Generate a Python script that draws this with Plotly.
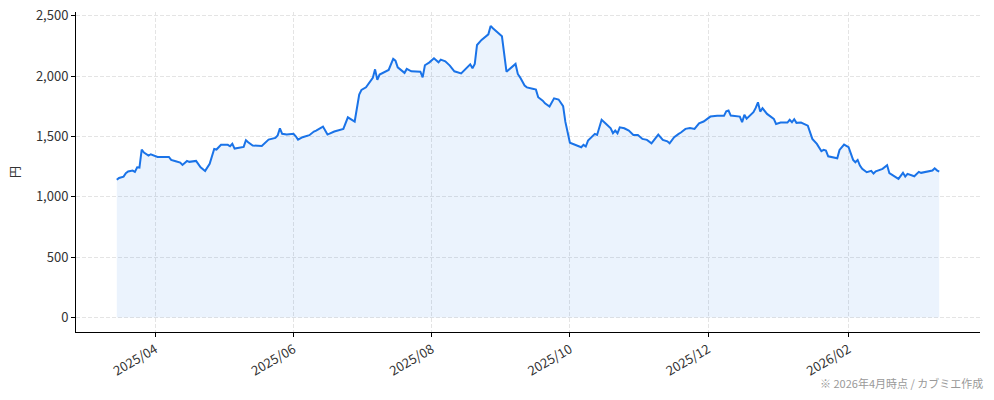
import plotly.graph_objects as go

# 株価推移 (日付, 終値: 円)
dates = [
    "2025-03-15", "2025-03-16", "2025-03-18", "2025-03-19", "2025-03-20", "2025-03-22",
    "2025-03-23", "2025-03-24", "2025-03-25", "2025-03-26", "2025-03-27", "2025-03-29",
    "2025-03-30", "2025-04-01", "2025-04-02", "2025-04-07", "2025-04-08", "2025-04-10",
    "2025-04-12", "2025-04-13", "2025-04-15", "2025-04-16", "2025-04-19", "2025-04-21",
    "2025-04-23", "2025-04-25", "2025-04-27", "2025-04-28", "2025-04-30", "2025-05-03",
    "2025-05-04", "2025-05-05", "2025-05-06", "2025-05-10", "2025-05-11", "2025-05-12",
    "2025-05-14", "2025-05-18", "2025-05-21", "2025-05-24", "2025-05-25", "2025-05-26",
    "2025-05-27", "2025-05-29", "2025-06-01", "2025-06-02", "2025-06-03", "2025-06-05",
    "2025-06-08", "2025-06-10", "2025-06-11", "2025-06-14", "2025-06-16", "2025-06-19",
    "2025-06-23", "2025-06-25", "2025-06-28", "2025-06-30", "2025-07-01", "2025-07-03",
    "2025-07-05", "2025-07-06", "2025-07-07", "2025-07-08", "2025-07-09", "2025-07-11",
    "2025-07-13", "2025-07-15", "2025-07-16", "2025-07-17", "2025-07-20", "2025-07-21",
    "2025-07-23", "2025-07-27", "2025-07-28", "2025-07-29", "2025-07-31", "2025-08-02",
    "2025-08-04", "2025-08-05", "2025-08-07", "2025-08-09", "2025-08-11", "2025-08-14",
    "2025-08-16", "2025-08-18", "2025-08-19", "2025-08-20", "2025-08-21", "2025-08-23",
    "2025-08-26", "2025-08-27", "2025-08-28", "2025-09-01", "2025-09-03", "2025-09-05",
    "2025-09-07", "2025-09-08", "2025-09-09", "2025-09-11", "2025-09-12", "2025-09-15",
    "2025-09-16", "2025-09-17", "2025-09-19", "2025-09-20", "2025-09-22", "2025-09-24",
    "2025-09-26", "2025-09-28", "2025-09-29", "2025-10-01", "2025-10-03", "2025-10-06",
    "2025-10-07", "2025-10-08", "2025-10-09", "2025-10-11", "2025-10-12", "2025-10-13",
    "2025-10-15", "2025-10-17", "2025-10-19", "2025-10-20", "2025-10-21", "2025-10-22",
    "2025-10-23", "2025-10-25", "2025-10-27", "2025-10-29", "2025-10-31", "2025-11-02",
    "2025-11-04", "2025-11-06", "2025-11-09", "2025-11-11", "2025-11-13", "2025-11-14",
    "2025-11-16", "2025-11-18", "2025-11-19", "2025-11-21", "2025-11-23", "2025-11-25",
    "2025-11-27", "2025-11-29", "2025-11-30", "2025-12-02", "2025-12-05", "2025-12-08",
    "2025-12-09", "2025-12-10", "2025-12-11", "2025-12-13", "2025-12-15", "2025-12-16",
    "2025-12-17", "2025-12-18", "2025-12-21", "2025-12-22", "2025-12-23", "2025-12-24",
    "2025-12-25", "2025-12-27", "2025-12-30", "2025-12-31", "2026-01-02", "2026-01-05",
    "2026-01-06", "2026-01-07", "2026-01-08", "2026-01-09", "2026-01-11", "2026-01-14",
    "2026-01-16", "2026-01-18", "2026-01-20", "2026-01-21", "2026-01-22", "2026-01-23",
    "2026-01-27", "2026-01-28", "2026-01-30", "2026-02-01", "2026-02-03", "2026-02-04",
    "2026-02-05", "2026-02-06", "2026-02-07", "2026-02-09", "2026-02-11", "2026-02-12",
    "2026-02-13", "2026-02-16", "2026-02-18", "2026-02-19", "2026-02-21", "2026-02-23",
    "2026-02-25", "2026-02-26", "2026-02-27", "2026-03-01", "2026-03-02", "2026-03-04",
    "2026-03-05", "2026-03-10", "2026-03-11", "2026-03-12", "2026-03-13",
]
prices = [
    1140, 1156, 1167, 1195, 1209, 1217,
    1206, 1244, 1242, 1391, 1366, 1341,
    1352, 1341, 1330, 1330, 1305, 1294,
    1283, 1264, 1297, 1289, 1297, 1244,
    1214, 1272, 1396, 1391, 1430, 1430,
    1418, 1438, 1399, 1413, 1468, 1451,
    1424, 1421, 1473, 1487, 1507, 1567,
    1521, 1515, 1521, 1501, 1473, 1493,
    1510, 1540, 1548, 1581, 1515, 1540,
    1562, 1658, 1623, 1846, 1885, 1906,
    1954, 1984, 2055, 1968, 2012, 2031,
    2050, 2142, 2127, 2072, 2026, 2059,
    2039, 2036, 1989, 2089, 2113, 2147,
    2113, 2136, 2122, 2086, 2039, 2022,
    2064, 2097, 2064, 2100, 2257, 2299,
    2345, 2415, 2395, 2329, 2036, 2070,
    2100, 2017, 1989, 1921, 1906, 1893,
    1887, 1824, 1796, 1774, 1747, 1815,
    1805, 1750, 1620, 1448, 1432, 1410,
    1430, 1416, 1465, 1501, 1521, 1512,
    1637, 1603, 1567, 1526, 1548, 1526,
    1575, 1567, 1548, 1512, 1512, 1479,
    1471, 1443, 1515, 1471, 1459, 1443,
    1493, 1521, 1532, 1562, 1570, 1562,
    1608, 1623, 1637, 1664, 1670, 1670,
    1708, 1714, 1672, 1670, 1664, 1617,
    1678, 1647, 1700, 1736, 1782, 1705,
    1733, 1686, 1645, 1603, 1614, 1614,
    1637, 1617, 1642, 1612, 1614, 1589,
    1479, 1438, 1377, 1388, 1382, 1335,
    1319, 1388, 1432, 1410, 1305, 1286,
    1305, 1258, 1231, 1203, 1214, 1192,
    1211, 1231, 1261, 1195, 1175, 1148,
    1198, 1167, 1190, 1178, 1170, 1206,
    1198, 1217, 1236, 1219, 1209,
]

y_ticks = [0, 500, 1000, 1500, 2000, 2500]
y_tick_labels = ["0", "500", "1,000", "1,500", "2,000", "2,500"]

line_color = "#1a73e8"
font_family = "Noto Sans CJK JP"

fig = go.Figure()
fig.add_trace(go.Scatter(
    x=dates, y=prices, mode="lines",
    line=dict(color=line_color, width=2),
    fill="tozeroy", fillcolor="rgba(26,115,232,0.085)",
    hoverinfo="x+y", showlegend=False,
))

grid = dict(showgrid=True, gridcolor="#e4e4e4", griddash="4px,2px", gridwidth=1)

fig.update_layout(
    width=994, height=400,
    margin=dict(l=76, r=14, t=12, b=68, autoexpand=False),
    plot_bgcolor="white", paper_bgcolor="white",
    font=dict(family=font_family, size=13, color="#333333"),
    xaxis=dict(
        type="date",
        range=["2025-02-25", "2026-03-31"],
        tick0="2025-04-01", dtick="M2", tickformat="%Y/%m",
        tickangle=-30,
        ticks="outside", ticklen=4, tickcolor="black",
        showline=True, linecolor="black", linewidth=1,
        zeroline=False, automargin=False,
        **grid,
    ),
    yaxis=dict(
        range=[-120, 2530],
        tickvals=y_ticks, ticktext=y_tick_labels,
        ticks="outside", ticklen=4, tickcolor="black",
        showline=True, linecolor="black", linewidth=1,
        zeroline=False, automargin=False,
        title=dict(text="円", standoff=12, font=dict(size=12)),
        **grid,
    ),
    annotations=[dict(
        text="※ 2026年4月時点 / カブミエ作成",
        xref="paper", yref="paper", x=1.006, y=-0.16,
        xanchor="right", yanchor="middle", showarrow=False,
        font=dict(size=11, color="#999999"),
    )],
)

# drop the page's default body margin so the figure fills the window
fig.write_html(
    "out.html",
    config={"displayModeBar": False},
    post_script="document.body.style.margin = '0px';",
)
